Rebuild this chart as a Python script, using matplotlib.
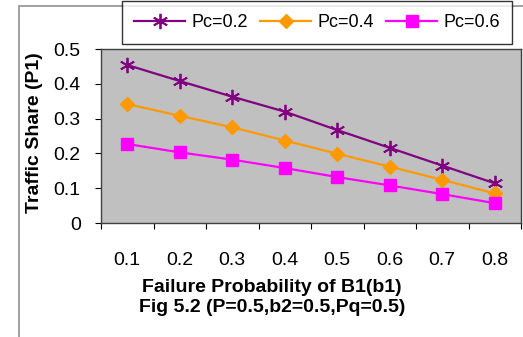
import matplotlib.pyplot as plt
from matplotlib.patches import Rectangle

# data
b1 = ['0.1', '0.2', '0.3', '0.4', '0.5', '0.6', '0.7', '0.8']
pc_02 = [0.454, 0.408, 0.363, 0.320, 0.267, 0.216, 0.165, 0.114]
pc_04 = [0.342, 0.308, 0.275, 0.237, 0.199, 0.162, 0.124, 0.085]
pc_06 = [0.227, 0.203, 0.182, 0.158, 0.132, 0.108, 0.083, 0.057]

plt.rcParams['font.family'] = ['Liberation Sans', 'DejaVu Sans']

W, H = 523, 337
fig = plt.figure(figsize=(W / 100, H / 100), dpi=100)

# outer chart frame (runs off the right and bottom of the image)
fig.patches.append(Rectangle((19 / W, -0.1), 1.2, 1 - 6 / H + 0.1,
                             transform=fig.transFigure, fill=False,
                             edgecolor='#909090', linewidth=1.2))

ax = fig.add_axes([101 / W, (H - 223) / H, 420 / W, 174 / H])
ax.set_facecolor('#C0C0C0')

x = range(len(b1))
ax.plot(x, pc_02, color='#800080', marker=(6, 2, 0), markersize=11,
        markeredgewidth=1.3, linewidth=1.6, label='Pc=0.2')
ax.plot(x, pc_04, color='#FF9900', marker='D', markersize=7,
        linewidth=1.6, label='Pc=0.4')
ax.plot(x, pc_06, color='#FF00FF', marker='s', markersize=9,
        linewidth=1.6, label='Pc=0.6')

ax.set_xlim(-0.5, len(b1) - 0.5)
ax.set_ylim(0, 0.5)
ax.set_yticks([0, 0.1, 0.2, 0.3, 0.4, 0.5])
ax.set_yticklabels(['0', '0.1', '0.2', '0.3', '0.4', '0.5'])
ax.set_xticks([i - 0.5 for i in range(len(b1) + 1)], minor=False)
ax.set_xticklabels([])
ax.set_xticks(list(x), minor=True)
ax.set_xticklabels(b1, minor=True)
ax.tick_params(axis='x', which='minor', length=0, pad=21, labelsize=14)
ax.tick_params(axis='x', which='major', length=4.5, direction='out')
ax.tick_params(axis='y', length=4.5, direction='out', labelsize=14, pad=10)

for s in ax.spines.values():
    s.set_color('#404040')
    s.set_linewidth(1.0)

fig.text(35 / W, 1 - 133 / H, 'Traffic Share (P1)', rotation=90,
         ha='center', va='center', fontsize=14, fontweight='bold')
fig.text(272 / W, 1 - 288 / H, 'Failure Probability of B1(b1)',
         ha='center', va='center', fontsize=14, fontweight='bold')
fig.text(272 / W, 1 - 308 / H, 'Fig 5.2 (P=0.5,b2=0.5,Pq=0.5)',
         ha='center', va='center', fontsize=14, fontweight='bold')

leg = fig.legend(loc='center', bbox_to_anchor=(317 / W, 1 - 22.5 / H),
                 ncol=3, fontsize=13, frameon=True, fancybox=False,
                 handlelength=2.8, columnspacing=0.7, handletextpad=0.35,
                 borderpad=0.7, borderaxespad=0)
leg.get_frame().set_edgecolor('black')
leg.get_frame().set_linewidth(1.0)

fig.savefig('out.png', dpi=100)
